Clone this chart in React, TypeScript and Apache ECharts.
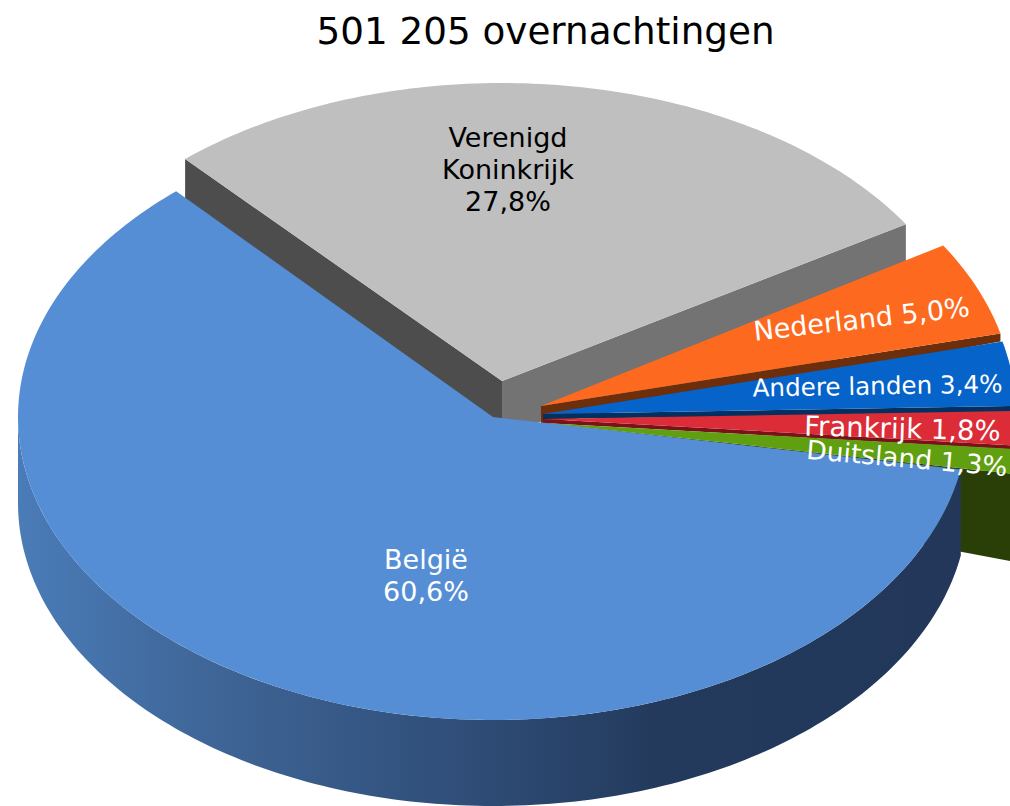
import React, { useEffect, useRef } from "react";
import * as echarts from "echarts";

const titleText = "501 205 overnachtingen";
const countries = ["België", "Verenigd Koninkrijk", "Nederland", "Andere landen", "Frankrijk", "Duitsland"];
const shares = [60.6, 27.8, 5.0, 3.4, 1.8, 1.3];

const START_ANGLE = 10;
const drawOrder = [1, 2, 3, 4, 5, 0];
const topColors = ["#558ed5", "#bfbfbf", "#fd6a1f", "#0563c9", "#dc2c37", "#60a010"];
const wallColors = ["#22375a", "#737373", "#6c2e0b", "#03305f", "#7a1219", "#2a3f08"];
// per-slice geometry: centre, radii, wall depth at apex / at the outer end
const geometry = [
  { cx: 493, cy: 417, rx: 475, ry: 303, apex: 0, outer: 0 },
  { cx: 502, cy: 381, rx: 475, ry: 298, apex: 49, outer: 120 },
  { cx: 541, cy: 406, rx: 473, ry: 305, apex: 19, outer: 8 },
  { cx: 543, cy: 414, rx: 473, ry: 305, apex: 5, outer: 7 },
  { cx: 543, cy: 419, rx: 473, ry: 305, apex: 4, outer: 4 },
  { cx: 543, cy: 423, rx: 480, ry: 305, apex: 50, outer: 88 },
];
const labelLayout = [
  { x: 426, y: 575, rot: 0, size: 27, lines: 2 },
  { x: 508, y: 169, rot: 0, size: 27, lines: 3 },
  { x: 861.5, y: 319, rot: 6.5, size: 27, lines: 1 },
  { x: 877.5, y: 386, rot: 1, size: 24.6, lines: 1 },
  { x: 902.5, y: 428, rot: -1.5, size: 27.5, lines: 1 },
  { x: 907, y: 458, rot: -5, size: 26.5, lines: 1 },
];
const labelColors = ["#ffffff", "#000000", "#ffffff", "#ffffff", "#ffffff", "#ffffff"];
const SIDE_DEPTH = 86;
const FONT = '"DejaVu Sans", Verdana, sans-serif';

const rad = (d: number) => (d * Math.PI) / 180;

function sliceAngles(i: number) {
  let a = START_ANGLE;
  for (let k = 0; k < i; k++) a += shares[k] * 3.6;
  return [a, a + shares[i] * 3.6];
}

function arcPoints(g: any, a0: number, a1: number, dy = 0) {
  const pts: number[][] = [];
  const n = Math.max(2, Math.ceil(Math.abs(a1 - a0)));
  for (let k = 0; k <= n; k++) {
    const a = rad(a0 + ((a1 - a0) * k) / n);
    pts.push([g.cx + g.rx * Math.cos(a), g.cy + g.ry * Math.sin(a) + dy]);
  }
  return pts;
}

function labelText(i: number) {
  const pct = shares[i].toFixed(1).replace(".", ",") + "%";
  const lines = labelLayout[i].lines;
  if (lines === 1) return `${countries[i]} ${pct}`;
  return `${countries[i].replace(" ", "\n")}\n${pct}`;
}

function renderSlice(params: any) {
  const i = drawOrder[params.dataIndex];
  const g = geometry[i];
  const [a0, a1] = sliceAngles(i);
  const children: any[] = [];
  const corner = (a: number, dy = 0) => [g.cx + g.rx * Math.cos(rad(a)), g.cy + g.ry * Math.sin(rad(a)) + dy];

  if (i === 0) {
    const top = arcPoints(g, a0, 180);
    const bottom = arcPoints(g, 180, a0, SIDE_DEPTH);
    children.push({
      type: "polygon",
      shape: { points: [...top, ...bottom] },
      style: {
        fill: new echarts.graphic.LinearGradient(0, 0, 1, 0, [
          { offset: 0, color: "#4a7cb8" },
          { offset: 0.2, color: "#3f6698" },
          { offset: 0.5, color: "#2e4b75" },
          { offset: 0.68, color: "#233a5c" },
          { offset: 1, color: "#22375a" },
        ]),
      },
    });
  } else if (i === 1) {
    // the two visible cut faces of the lifted slice
    children.push({
      type: "polygon",
      shape: { points: [corner(a1), [g.cx, g.cy], [g.cx, g.cy + g.apex], corner(a1, g.outer)] },
      style: { fill: "#737373" },
    });
    children.push({
      type: "polygon",
      shape: { points: [corner(a0), [g.cx, g.cy], [g.cx, g.cy + g.apex], corner(a0, 45)] },
      style: { fill: "#4d4d4d" },
    });
  } else {
    children.push({
      type: "polygon",
      shape: { points: [[g.cx, g.cy], corner(a1), corner(a1, g.outer), [g.cx, g.cy + g.apex]] },
      style: { fill: wallColors[i] },
    });
  }
  children.push({
    type: "polygon",
    shape: { points: [[g.cx, g.cy], ...arcPoints(g, a0, a1)] },
    style: { fill: topColors[i] },
  });
  const l = labelLayout[i];
  children.push({
    type: "text",
    x: l.x,
    y: l.y,
    rotation: rad(l.rot),
    z2: 100,
    style: {
      text: labelText(i),
      fill: labelColors[i],
      font: `${l.size}px ${FONT}`,
      lineHeight: 32,
      align: "center",
      verticalAlign: "middle",
    },
  });
  return { type: "group", children };
}

export default function App() {
  const ref = useRef<HTMLDivElement>(null);
  useEffect(() => {
    const chart = echarts.init(ref.current!, undefined, { renderer: "svg" });
    chart.setOption({
      animation: false,
      backgroundColor: "#ffffff",
      title: {
        text: titleText,
        left: 540.5,
        top: 7,
        textAlign: "center",
        textStyle: { fontFamily: FONT, fontSize: 37.3, fontWeight: "normal", color: "#000000" },
      },
      series: [
        {
          type: "custom",
          coordinateSystem: "none",
          silent: true,
          data: drawOrder.map((i) => ({ name: countries[i], value: shares[i] })),
          renderItem: renderSlice,
        },
      ],
    });
    return () => chart.dispose();
  }, []);
  return <div ref={ref} style={{ position: "absolute", left: 0, top: 0, width: 1010, height: 806 }} />;
}
